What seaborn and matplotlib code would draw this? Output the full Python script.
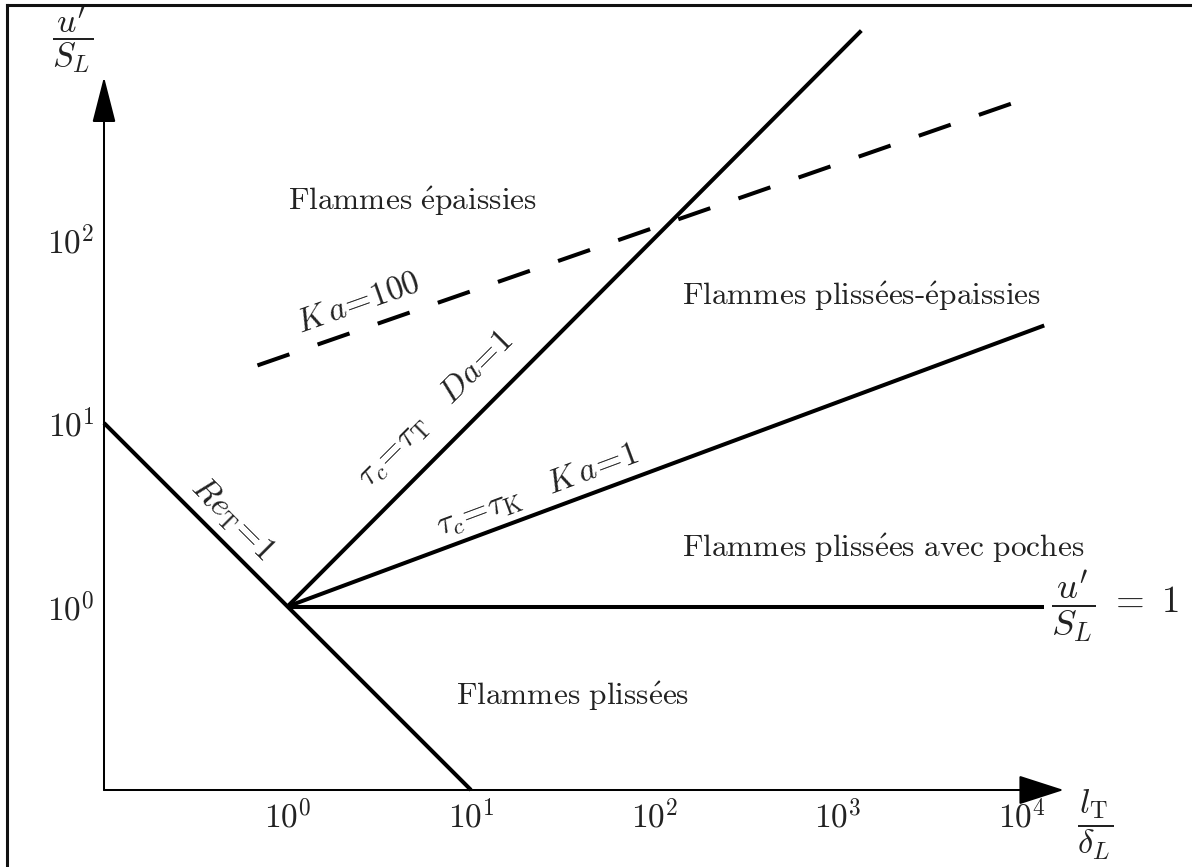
import numpy as np
import pandas as pd
import matplotlib
matplotlib.use("Agg")
import matplotlib.pyplot as plt
import seaborn as sns
from matplotlib.lines import Line2D
from matplotlib.ticker import NullLocator

# ---------------- data ----------------
re_x = [0.1, 10.0]          # Re_T = 1
re_y = [10.0, 0.1]
da_x = [1.0, 1340.0]        # Da = 1
da_y = [1.0, 1375.0]
ka1_x = [1.0, 13300.0]      # Ka = 1
ka1_y = [1.0, 34.0]
ka100_x = [0.686, 9510.0]   # Ka = 100 (dashed)
ka100_y = [20.6, 565.0]
u1_x = [1.0, 13300.0]       # u'/S_L = 1
u1_y = [1.0, 1.0]

x_ticks = [1, 10, 100, 1000, 10000]
x_ticklabels = [r"$10^{0}$", r"$10^{1}$", r"$10^{2}$", r"$10^{3}$", r"$10^{4}$"]
y_ticks = [1, 10, 100]
y_ticklabels = [r"$10^{0}$", r"$10^{1}$", r"$10^{2}$"]

regions = [r"$\mathrm{Flammes\ \acute{e}paissies}$",
           r"$\mathrm{Flammes\ pliss\acute{e}es}\text{-}\mathrm{\acute{e}paissies}$",
           r"$\mathrm{Flammes\ pliss\acute{e}es\ avec\ poches}$",
           r"$\mathrm{Flammes\ pliss\acute{e}es}$"]
region_x = [1.0, 142.0, 142.0, 8.3]
region_y = [144.0, 43.7, 1.87, 0.29]

# ---------------- style ----------------
sns.set_style("white")
plt.rcParams["mathtext.fontset"] = "cm"
plt.rcParams["font.family"] = ["DejaVu Serif"]

W, H = 1192, 867
fig = plt.figure(figsize=(W / 100, H / 100), dpi=100)
decade = 183.5
x0px, y0px = 104, 790
xlo, xhi = -1.0, 4.35
ylo, yhi = -1.0, 3.3
ax = fig.add_axes([x0px / W, (H - y0px) / H,
                   (xhi - xlo) * decade / W, (yhi - ylo) * decade / H])
ax.set_xscale("log")
ax.set_yscale("log")
ax.set_xlim(10 ** xlo, 10 ** xhi)
ax.set_ylim(10 ** ylo, 10 ** yhi)
ax.patch.set_alpha(0)

frames = []
for name, xs, ys in [("re", re_x, re_y), ("da", da_x, da_y), ("ka1", ka1_x, ka1_y),
                     ("ka100", ka100_x, ka100_y), ("u1", u1_x, u1_y)]:
    frames.append(pd.DataFrame({"x": xs, "y": ys, "line": name}))
df = pd.concat(frames, ignore_index=True)

LW = 2.9
for name, sub in df.groupby("line", sort=False):
    kw = dict(linestyle=(0, (8.4, 7.4))) if name == "ka100" else {}
    sns.lineplot(data=sub, x="x", y="y", ax=ax, color="black", lw=LW,
                 estimator=None, sort=False, legend=False, clip_on=False,
                 solid_capstyle="butt", **kw)

for s in ax.spines.values():
    s.set_visible(False)

ax.set_xlabel("")
ax.set_ylabel("")
ax.set_xticks(x_ticks)
ax.set_xticklabels(x_ticklabels)
ax.set_yticks(y_ticks)
ax.set_yticklabels(y_ticklabels)
ax.xaxis.set_minor_locator(NullLocator())
ax.yaxis.set_minor_locator(NullLocator())
ax.tick_params(axis="both", direction="in", length=15.8, width=1.45,
               labelsize=24, labelcolor="#222222", color="black")
ax.tick_params(axis="x", pad=7)
ax.tick_params(axis="y", pad=7)

# axis arrows
ax.annotate("", xy=(10 ** 4.23, 0.1), xytext=(0.1, 0.1), annotation_clip=False,
            arrowprops=dict(arrowstyle="-|>,head_length=1.8,head_width=0.58",
                            mutation_scale=16, lw=1.45, color="black",
                            shrinkA=0, shrinkB=0))
ax.annotate("", xy=(0.1, 10 ** 2.886), xytext=(0.1, 0.1), annotation_clip=False,
            arrowprops=dict(arrowstyle="-|>,head_length=1.8,head_width=0.46",
                            mutation_scale=16, lw=1.45, color="black",
                            shrinkA=0, shrinkB=0))

TC = "#222222"
# axis labels
ax.text(0.0678, 1222, r"$\dfrac{u'}{S_L}$", fontsize=24.5, ha="center", va="center", color=TC)
ax.text(10 ** 4.40, 10 ** (-1.19), r"$\dfrac{l_{\mathrm{T}}}{\delta_L}$", fontsize=25,
        ha="center", va="center", color=TC)
ax.text(10 ** 4.16, 1.0, r"$\dfrac{u'}{S_L}\ =\ 1$", fontsize=26.5, ha="left", va="center", color=TC)

# region labels
for lab, xx, yy in zip(regions, region_x, region_y):
    ax.text(xx, yy, lab, fontsize=22.6, ha="left", va="baseline", color=TC)

# line labels
ax.text(0.50, 3.0, r"$Re_{\mathrm{T}}\!=\!1$", fontsize=24, rotation=-45,
        rotation_mode="anchor", ha="center", va="center", color=TC)
ax.text(6.4, 11.8, r"$\tau_c\!=\!\tau_{\mathrm{T}}\quad Da\!=\!1$", fontsize=24, rotation=45,
        rotation_mode="anchor", ha="center", va="center", color=TC)
ax.text(23.0, 4.3, r"$\tau_c\!=\!\tau_{\mathrm{K}}\quad K\,a\!=\!1$", fontsize=24, rotation=20.4,
        rotation_mode="anchor", ha="center", va="center", color=TC)
ax.text(2.41, 45.4, r"$K\,a\!=\!100$", fontsize=24, rotation=19.5,
        rotation_mode="anchor", ha="center", va="center", color=TC)

# outer frame (left and top edges)
fig.add_artist(Line2D([7 / W, 7 / W], [0, 1 - 4.7 / H], transform=fig.transFigure,
                      color="#111111", lw=2.2, solid_capstyle="projecting"))
fig.add_artist(Line2D([7 / W, 1], [1 - 4.7 / H, 1 - 4.7 / H], transform=fig.transFigure,
                      color="#111111", lw=2.2, solid_capstyle="projecting"))

fig.savefig("out.png", dpi=100, facecolor="white")
